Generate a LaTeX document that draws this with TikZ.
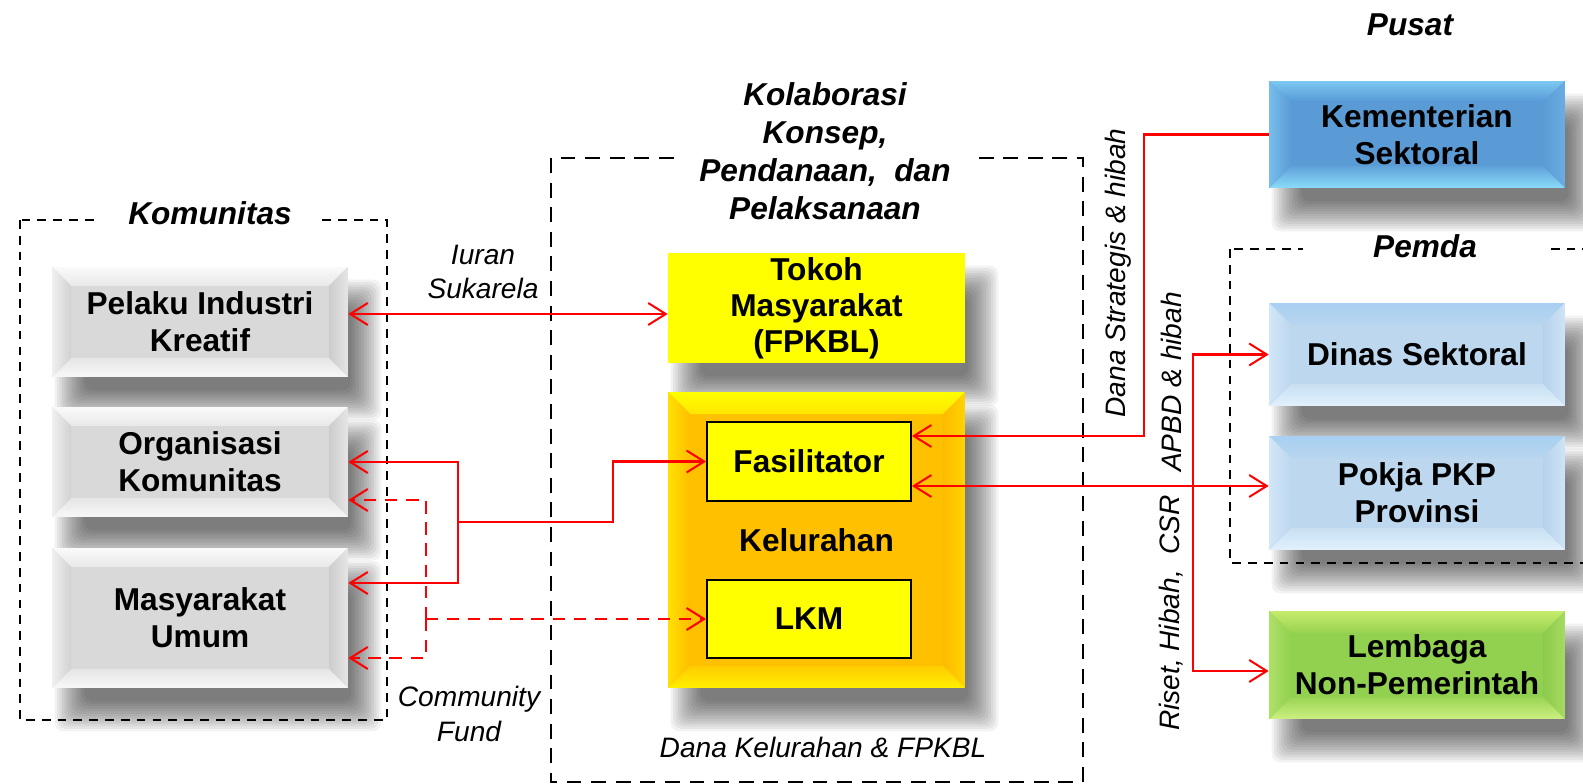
\documentclass[tikz,border=0pt]{standalone}
\usepackage{fontspec}
\setmainfont{Liberation Sans}
\usetikzlibrary{arrows.meta,calc}

\pgfdeclarelayer{paper}
\pgfdeclarelayer{shadow}
\pgfsetlayers{paper,shadow,main}

\definecolor{wirered}{HTML}{FF0000}
\definecolor{tokohyellow}{HTML}{FFFF00}
% blue card
\definecolor{bluFace}{HTML}{5B9BD5}
\definecolor{bluTopA}{HTML}{7CC8F0}
\definecolor{bluTopB}{HTML}{5597D6}
\definecolor{bluRgtB}{HTML}{6AACE2}
\definecolor{bluBotA}{HTML}{5FA2DA}
\definecolor{bluBotB}{HTML}{8ADCF8}
\definecolor{bluLftA}{HTML}{78BDEB}
% pale blue card
\definecolor{palFace}{HTML}{BDD7EE}
\definecolor{palTopA}{HTML}{A8D0F2}
\definecolor{palTopB}{HTML}{B8D5EF}
\definecolor{palRgtA}{HTML}{B6D1EA}
\definecolor{palRgtB}{HTML}{CFE4F5}
\definecolor{palBotA}{HTML}{C8DFF2}
\definecolor{palBotB}{HTML}{E2F1FC}
\definecolor{palLftA}{HTML}{D2E7F8}
% green card
\definecolor{grnFace}{HTML}{92D050}
\definecolor{grnTopA}{HTML}{C6EC6C}
\definecolor{grnTopB}{HTML}{98D250}
\definecolor{grnRgtA}{HTML}{8CCA4C}
\definecolor{grnRgtB}{HTML}{A6DA60}
\definecolor{grnBotA}{HTML}{9AD454}
\definecolor{grnBotB}{HTML}{CCF080}
\definecolor{grnLftA}{HTML}{AEE068}
% orange card
\definecolor{orgFace}{HTML}{FFC000}
\definecolor{orgTopA}{HTML}{FFFF00}
\definecolor{orgTopB}{HTML}{FFE600}
\definecolor{orgRgtA}{HTML}{FFBA00}
\definecolor{orgRgtB}{HTML}{FFD400}
\definecolor{orgBotA}{HTML}{FFCC00}
\definecolor{orgBotB}{HTML}{FFF000}
\definecolor{orgLftA}{HTML}{FFE000}
\definecolor{orgLftB}{HTML}{FFBE00}

% Four sloped faces of a bevelled button: depth, top, right, bottom, left
\newcommand\bevelfaces[5]{%
  \path (path picture bounding box.north west) coordinate (bvNW)
        (path picture bounding box.north east) coordinate (bvNE)
        (path picture bounding box.south west) coordinate (bvSW)
        (path picture bounding box.south east) coordinate (bvSE);
  \path ($(bvNW)+(#1,-#1)$) coordinate (bvnw)
        ($(bvNE)+(-#1,-#1)$) coordinate (bvne)
        ($(bvSW)+(#1,#1)$) coordinate (bvsw)
        ($(bvSE)+(-#1,#1)$) coordinate (bvse);
  \path[#2] (bvNW) -- (bvNE) -- (bvne) -- (bvnw) -- cycle;
  \path[#3] (bvNE) -- (bvSE) -- (bvse) -- (bvne) -- cycle;
  \path[#4] (bvSW) -- (bvSE) -- (bvse) -- (bvsw) -- cycle;
  \path[#5] (bvNW) -- (bvSW) -- (bvsw) -- (bvnw) -- cycle;
}

% Soft drop shadow cast down and to the right of a node
\newcommand\castshadow[1]{%
  \begin{pgfonlayer}{shadow}
  \foreach \k in {0,...,12}{%
    \pgfmathsetmacro\shxa{18-15+2.5*\k}%
    \pgfmathsetmacro\shya{28-15+2.5*\k}%
    \pgfmathsetmacro\shxb{18+15-2.5*\k}%
    \pgfmathsetmacro\shyb{28+15-2.5*\k}%
    \fill[black, opacity=0.05, rounded corners=5pt]
      ($(#1.north west)+(\shxa,\shya)$) rectangle
      ($(#1.south east)+(\shxb,\shyb)$);
  }
  \end{pgfonlayer}}

\tikzset{
  boxtxt/.style={font=\fontsize{18}{21}\selectfont\bfseries, align=center, text=black},
  card/.style={rectangle, inner sep=0pt, boxtxt, minimum width=5.92cm},
  greycard/.style={card, fill=black!15, path picture={\bevelfaces{0.38cm}
      {top color=black!2, bottom color=black!9}
      {left color=black!20, right color=black!10}
      {top color=black!10, bottom color=black!3}
      {left color=black!6, right color=black!18}}},
  bluecard/.style={card, fill=bluFace, path picture={\bevelfaces{0.44cm}
      {top color=bluTopA, bottom color=bluTopB}
      {left color=bluFace, right color=bluRgtB}
      {top color=bluBotA, bottom color=bluBotB}
      {left color=bluLftA, right color=bluFace}}},
  palecard/.style={card, fill=palFace, path picture={\bevelfaces{0.44cm}
      {top color=palTopA, bottom color=palTopB}
      {left color=palRgtA, right color=palRgtB}
      {top color=palBotA, bottom color=palBotB}
      {left color=palLftA, right color=palFace}}},
  greencard/.style={card, fill=grnFace, path picture={\bevelfaces{0.44cm}
      {top color=grnTopA, bottom color=grnTopB}
      {left color=grnRgtA, right color=grnRgtB}
      {top color=grnBotA, bottom color=grnBotB}
      {left color=grnLftA, right color=grnFace}}},
  orangecard/.style={card, fill=orgFace, path picture={\bevelfaces{0.44cm}
      {top color=orgTopA, bottom color=orgTopB}
      {left color=orgRgtA, right color=orgRgtB}
      {top color=orgBotA, bottom color=orgBotB}
      {left color=orgLftA, right color=orgLftB}}},
  innerbox/.style={rectangle, inner sep=0pt, boxtxt, fill=tokohyellow, draw=black,
      line width=1.1pt, minimum width=4.08cm},
  grouptitle/.style={font=\fontsize{18}{21.6}\selectfont\bfseries\itshape, align=center,
      fill=white, inner ysep=1pt},
  note/.style={font=\fontsize{16}{19.5}\selectfont\itshape, align=center, inner sep=1pt},
  frame/.style={draw=black, line width=1.1pt, dash pattern=on 5pt off 4pt},
  bigframe/.style={draw=black, line width=1.6pt, dash pattern=on 8.5pt off 5.5pt},
  wire/.style={draw=wirered, line width=1.15pt},
  dashwire/.style={wire, dash pattern=on 7pt off 5pt},
  >={Straight Barb[length=10pt, width=12.5pt]},
}

\begin{document}
\begin{tikzpicture}[x=0.02cm, y=-0.02cm]
\clip (0,0) rectangle (1583,784);
\begin{pgfonlayer}{paper}
  \fill[white] (0,0) rectangle (1583,784);
\end{pgfonlayer}

% dashed group frames
\draw[frame] (20,220) rectangle (387,720);
\draw[bigframe] (551,158) rectangle (1083,782);
\draw[frame] (1230,249) rectangle (1650,563);

% group titles, masking the frame lines behind them
\node[grouptitle, inner xsep=0.6cm] (komt) at (210,213) {Komunitas};
\node[grouptitle, inner xsep=0.45cm] (kolt) at (825,151)
  {Kolaborasi\\Konsep,\\Pendanaan,~ dan\\Pelaksanaan};
\node[grouptitle, inner xsep=1.4cm] (pemdat) at (1425,246) {Pemda};
\node[grouptitle] (pusatt) at (1410,25) {Pusat};

% community column
\node[greycard, minimum height=2.2cm] (pelaku) at (200,322) {Pelaku Industri\\Kreatif};
\node[greycard, minimum height=2.2cm] (org) at (200,462) {Organisasi\\Komunitas};
\node[greycard, minimum height=2.8cm] (masy) at (200,618) {Masyarakat\\Umum};

% collaboration column
\node[card, fill=tokohyellow, minimum width=5.94cm, minimum height=2.2cm,
      font=\fontsize{18}{20.5}\selectfont\bfseries] (tokoh) at (816.5,308)
  {Tokoh\\Masyarakat\\(FPKBL)};
\node[orangecard, minimum width=5.94cm, minimum height=5.92cm] (kel) at (816.5,540) {Kelurahan};
\node[innerbox, minimum height=1.58cm] (fasil) at (809,461.5) {Fasilitator};
\node[innerbox, minimum height=1.56cm] (lkm) at (809,619) {LKM};

% government and partner column
\node[bluecard, minimum height=2.14cm] (kem) at (1417,134.5) {Kementerian\\Sektoral};
\node[palecard, minimum height=2.06cm] (dinas) at (1417,354.5) {Dinas Sektoral};
\node[palecard, minimum height=2.28cm] (pokja) at (1417,493) {Pokja PKP\\Provinsi};
\node[greencard, minimum height=2.16cm] (lembaga) at (1417,665) {Lembaga\\Non-Pemerintah};

% shadows beneath the cards
\castshadow{pelaku}
\castshadow{org}
\castshadow{masy}
\castshadow{tokoh}
\castshadow{kel}
\castshadow{kem}
\castshadow{dinas}
\castshadow{pokja}
\castshadow{lembaga}

% flow labels
\node[note] (iuran) at (483,272) {Iuran\\Sukarela};
\node[note] (cfund) at (469,714) {Community\\Fund};
\node[note] (danakel) at (823,747) {Dana Kelurahan \& FPKBL};
\node[note, rotate=90] (danastr) at (1118,273) {Dana Strategis \& hibah};
\node[note, rotate=90] (apbd) at (1171,382) {APBD \& hibah};
\node[note, rotate=90] (riset) at (1171,613) {Riset, Hibah,~ CSR};

% voluntary contributions
\draw[wire, <->] (pelaku.east |- 0,314) -- (tokoh.west |- 0,314);

% facilitator support to the community
\coordinate (fj) at (458,522);
\draw[wire, ->] (fj) -- (613,522) |- (fasil.west);
\draw[wire, ->] (fj) |- (org.east);
\draw[wire, ->] (fj) |- (masy.east |- 0,583);

% community fund through the LKM
\coordinate (lj) at (426,619);
\draw[dashwire, ->] (lj) -- (lkm.west);
\draw[dashwire, ->] (lj) |- (org.east |- 0,500);
\draw[dashwire, ->] (lj) |- (masy.east |- 0,658);

% central and regional funding
\draw[wire, ->] (kem.west) -| (1144,436) -- (fasil.east |- 0,436);
\draw[wire, <->] (fasil.east |- 0,486) -- (pokja.west |- 0,486);
\draw[wire, <->] (dinas.west) -- (dinas.west -| 1193,0) -- (1193,671) -- (lembaga.west |- 0,671);
\end{tikzpicture}
\end{document}
